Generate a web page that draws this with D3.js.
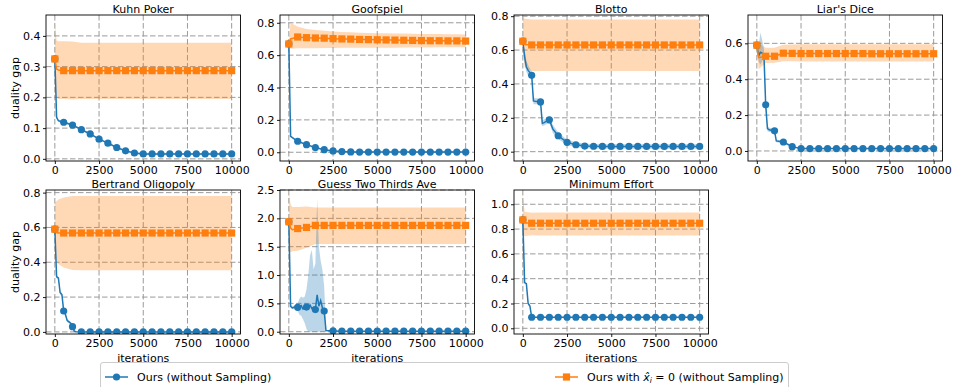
<!DOCTYPE html>
<html><head><meta charset="utf-8">
<script src="https://cdn.jsdelivr.net/npm/d3@7"></script>
<style>body{margin:0;background:#fff} svg{display:block;font-family:"DejaVu Sans",sans-serif}</style>
</head><body><svg id="c" width="953" height="387"></svg>
<script>
// ---------------- DATA ----------------
const xTicks = [0, 2500, 5000, 7500, 10000];
const titles = ["Kuhn Poker","Goofspiel","Blotto","Liar's Dice","Bertrand Oligopoly","Guess Two Thirds Ave","Minimum Effort"];
const seriesNames = ["Ours (without Sampling)", "Ours with x̂_i = 0 (without Sampling)"];

const kuhnYTicks = [0.0,0.1,0.2,0.3,0.4];
const goofYTicks = [0.0,0.2,0.4,0.6,0.8];
const blottoYTicks = [0.0,0.2,0.4,0.6,0.8];
const liarsYTicks = [0.0,0.2,0.4,0.6];
const bertYTicks = [0.0,0.2,0.4,0.6,0.8];
const guessYTicks = [0.0,0.5,1.0,1.5,2.0,2.5];
const minYTicks = [0.0,0.2,0.4,0.6,0.8,1.0];

const kuhnYDomain = [-0.007, 0.468];
const goofYDomain = [-0.054, 0.848];
const blottoYDomain = [-0.055, 0.807];
const liarsYDomain = [-0.056, 0.758];
const bertYDomain = [-0.012, 0.815];
const guessYDomain = [-0.04, 2.5];
const minYDomain = [-0.046, 1.115];

// Kuhn Poker
const kuhnOursIters = [0,100,200,500,1000,1500,2000,2500,3000,3500,4000,4500,5000,5500,6000,6500,7000,7500,8000,8500,9000,9500,10000];
const kuhnOurs   = [0.325,0.135,0.124,0.119,0.110,0.095,0.081,0.064,0.051,0.037,0.026,0.019,0.016,0.016,0.016,0.016,0.016,0.016,0.016,0.016,0.016,0.016,0.016];
const kuhnOursLo = [0.322,0.130,0.120,0.116,0.107,0.092,0.078,0.061,0.048,0.034,0.023,0.016,0.013,0.013,0.013,0.013,0.013,0.013,0.013,0.013,0.013,0.013,0.013];
const kuhnOursHi = [0.328,0.140,0.128,0.122,0.113,0.098,0.084,0.067,0.054,0.040,0.029,0.022,0.019,0.019,0.019,0.019,0.019,0.019,0.019,0.019,0.019,0.019,0.019];
const kuhnZeroIters = [0,100,200,500,1000,1500,2000,2500,3000,3500,4000,4500,5000,5500,6000,6500,7000,7500,8000,8500,9000,9500,10000];
const kuhnZero   = [0.325,0.292,0.289,0.287,0.287,0.287,0.287,0.287,0.287,0.287,0.287,0.287,0.287,0.287,0.287,0.287,0.287,0.287,0.287,0.287,0.287,0.287,0.287];
const kuhnZeroLo = [0.22,0.198,0.195,0.195,0.193,0.195,0.195,0.195,0.195,0.195,0.195,0.195,0.195,0.195,0.195,0.195,0.195,0.195,0.195,0.195,0.195,0.195,0.195];
const kuhnZeroHi = [0.44,0.385,0.383,0.383,0.382,0.378,0.378,0.378,0.378,0.378,0.378,0.378,0.378,0.378,0.378,0.378,0.378,0.378,0.378,0.378,0.378,0.378,0.378];

// Goofspiel
const goofOursIters = [0,100,500,1000,1500,2000,2500,3000,3500,4000,4500,5000,5500,6000,6500,7000,7500,8000,8500,9000,9500,10000];
const goofOurs   = [0.669,0.098,0.068,0.047,0.029,0.016,0.008,0.004,0.002,0.001,0.001,0.001,0.001,0.001,0.001,0.001,0.001,0.001,0.001,0.001,0.001,0.001];
const goofOursLo = [0.665,0.092,0.063,0.043,0.026,0.013,0.005,0.002,0.000,-0.001,-0.001,-0.001,-0.001,-0.001,-0.001,-0.001,-0.001,-0.001,-0.001,-0.001,-0.001,-0.001];
const goofOursHi = [0.673,0.104,0.073,0.051,0.032,0.019,0.011,0.006,0.004,0.003,0.003,0.003,0.003,0.003,0.003,0.003,0.003,0.003,0.003,0.003,0.003,0.003];
const goofZeroIters = [0,100,500,1000,1500,2000,2500,3000,3500,4000,4500,5000,5500,6000,6500,7000,7500,8000,8500,9000,9500,10000];
const goofZero   = [0.669,0.700,0.712,0.708,0.706,0.705,0.702,0.700,0.699,0.697,0.696,0.695,0.694,0.693,0.692,0.691,0.690,0.689,0.689,0.688,0.688,0.687];
const goofZeroLo = [0.655,0.640,0.642,0.643,0.643,0.644,0.644,0.645,0.645,0.645,0.646,0.646,0.646,0.646,0.647,0.647,0.647,0.647,0.648,0.648,0.648,0.648];
const goofZeroHi = [0.685,0.800,0.775,0.762,0.755,0.750,0.746,0.743,0.741,0.739,0.737,0.736,0.735,0.734,0.733,0.732,0.731,0.730,0.730,0.729,0.729,0.728];

// Blotto
const blottoOursIters = [0,100,200,300,400,500,600,700,800,900,1000,1100,1200,1300,1400,1500,1700,2000,2500,3000,3500,4000,4500,5000,5500,6000,6500,7000,7500,8000,8500,9000,9500,10000];
const blottoOurs   = [0.653,0.56,0.50,0.48,0.467,0.451,0.300,0.298,0.297,0.296,0.294,0.167,0.172,0.178,0.184,0.188,0.133,0.094,0.055,0.041,0.033,0.032,0.031,0.031,0.031,0.031,0.031,0.031,0.031,0.031,0.031,0.031,0.031,0.031];
const blottoOursLo = [0.653,0.52,0.47,0.45,0.44,0.43,0.28,0.28,0.28,0.28,0.275,0.15,0.155,0.16,0.165,0.168,0.11,0.075,0.04,0.028,0.02,0.019,0.018,0.018,0.018,0.018,0.018,0.018,0.018,0.018,0.018,0.018,0.018,0.018];
const blottoOursHi = [0.653,0.60,0.54,0.51,0.49,0.475,0.32,0.315,0.315,0.313,0.313,0.185,0.19,0.196,0.205,0.21,0.158,0.115,0.07,0.055,0.047,0.045,0.044,0.044,0.044,0.044,0.044,0.044,0.044,0.044,0.044,0.044,0.044,0.044];
const blottoZeroIters = [0,100,500,1000,1500,2000,2500,3000,3500,4000,4500,5000,5500,6000,6500,7000,7500,8000,8500,9000,9500,10000];
const blottoZero   = [0.652,0.633,0.630,0.630,0.630,0.630,0.630,0.630,0.630,0.630,0.630,0.630,0.630,0.630,0.630,0.630,0.630,0.630,0.630,0.630,0.630,0.630];
const blottoZeroLo = [0.62,0.50,0.476,0.476,0.476,0.476,0.476,0.476,0.476,0.476,0.476,0.476,0.476,0.476,0.476,0.476,0.476,0.476,0.476,0.476,0.476,0.476];
const blottoZeroHi = [0.80,0.785,0.78,0.78,0.78,0.78,0.78,0.78,0.78,0.78,0.78,0.78,0.78,0.78,0.78,0.78,0.78,0.78,0.78,0.78,0.78,0.78];

// Liar's Dice
const liarsOursIters = [0,100,200,300,400,500,600,700,800,900,1000,1100,1500,2000,2500,3000,3500,4000,4500,5000,5500,6000,6500,7000,7500,8000,8500,9000,9500,10000];
const liarsOurs   = [0.59,0.53,0.55,0.545,0.54,0.257,0.125,0.118,0.116,0.114,0.112,0.056,0.05,0.024,0.013,0.013,0.013,0.013,0.013,0.013,0.013,0.013,0.013,0.013,0.013,0.013,0.013,0.013,0.013,0.013];
const liarsOursLo = [0.59,0.50,0.48,0.50,0.52,0.24,0.11,0.105,0.104,0.103,0.101,0.048,0.043,0.019,0.009,0.009,0.009,0.009,0.009,0.009,0.009,0.009,0.009,0.009,0.009,0.009,0.009,0.009,0.009,0.009];
const liarsOursHi = [0.59,0.58,0.66,0.62,0.57,0.275,0.14,0.13,0.128,0.126,0.124,0.064,0.057,0.029,0.017,0.017,0.017,0.017,0.017,0.017,0.017,0.017,0.017,0.017,0.017,0.017,0.017,0.017,0.017,0.017];
const liarsZeroIters = [0,100,500,1000,1500,2000,2500,3000,3500,4000,4500,5000,5500,6000,6500,7000,7500,8000,8500,9000,9500,10000];
const liarsZero   = [0.59,0.52,0.528,0.528,0.545,0.544,0.543,0.543,0.543,0.543,0.543,0.543,0.543,0.543,0.542,0.542,0.542,0.542,0.542,0.542,0.542,0.542];
const liarsZeroLo = [0.58,0.456,0.49,0.492,0.500,0.500,0.499,0.499,0.499,0.499,0.499,0.499,0.499,0.499,0.499,0.499,0.499,0.499,0.499,0.499,0.499,0.499];
const liarsZeroHi = [0.60,0.60,0.575,0.575,0.592,0.594,0.595,0.595,0.595,0.595,0.595,0.595,0.595,0.595,0.595,0.595,0.595,0.595,0.595,0.595,0.595,0.595];

// Bertrand Oligopoly
const bertOursIters = [0,100,200,300,400,500,600,700,800,900,1000,1100,1200,1500,2000,2500,3000,3500,4000,4500,5000,5500,6000,6500,7000,7500,8000,8500,9000,9500,10000];
const bertOurs   = [0.59,0.316,0.31,0.225,0.215,0.12,0.10,0.065,0.058,0.05,0.03,0.004,0.001,0.0,0.0,0.0,0.0,0.0,0.0,0.0,0.0,0.0,0.0,0.0,0.0,0.0,0.0,0.0,0.0,0.0,0.0];
const bertOursLo = [0.59,0.31,0.30,0.215,0.205,0.11,0.09,0.055,0.05,0.043,0.024,0.0,-0.001,-0.002,-0.002,-0.002,-0.002,-0.002,-0.002,-0.002,-0.002,-0.002,-0.002,-0.002,-0.002,-0.002,-0.002,-0.002,-0.002,-0.002,-0.002];
const bertOursHi = [0.59,0.322,0.32,0.235,0.225,0.13,0.11,0.075,0.066,0.057,0.036,0.008,0.003,0.002,0.002,0.002,0.002,0.002,0.002,0.002,0.002,0.002,0.002,0.002,0.002,0.002,0.002,0.002,0.002,0.002,0.002];
const bertZeroIters = [0,100,200,500,1000,1500,2000,2500,3000,3500,4000,4500,5000,5500,6000,6500,7000,7500,8000,8500,9000,9500,10000];
const bertZero   = [0.59,0.57,0.568,0.568,0.568,0.568,0.568,0.568,0.568,0.568,0.568,0.568,0.568,0.568,0.568,0.568,0.568,0.568,0.568,0.568,0.568,0.568,0.568];
const bertZeroLo = [0.42,0.40,0.39,0.37,0.355,0.354,0.354,0.354,0.354,0.354,0.354,0.354,0.354,0.354,0.354,0.354,0.354,0.354,0.354,0.354,0.354,0.354,0.354];
const bertZeroHi = [0.74,0.752,0.76,0.772,0.78,0.781,0.781,0.781,0.781,0.781,0.781,0.781,0.781,0.781,0.781,0.781,0.781,0.781,0.781,0.781,0.781,0.781,0.781];

// Guess Two Thirds Ave
const guessOursIters = [0,100,200,300,400,500,600,700,800,900,1000,1100,1200,1300,1400,1500,1600,1700,1800,1900,2000,2100,2500,3000,3500,4000,4500,5000,5500,6000,6500,7000,7500,8000,8500,9000,9500,10000];
const guessOurs   = [1.94,0.45,0.42,0.43,0.43,0.43,0.44,0.46,0.40,0.43,0.435,0.42,0.47,0.41,0.43,0.39,0.65,0.45,0.55,0.42,0.365,0.02,0.015,0.01,0.01,0.01,0.01,0.01,0.01,0.01,0.01,0.01,0.01,0.01,0.01,0.01,0.01,0.01];
const guessOursLo = [1.94,0.42,0.40,0.40,0.39,0.37,0.30,0.28,0.22,0.15,0.05,0.0,0.0,0.0,0.0,0.0,0.0,0.0,0.0,0.0,0.0,0.01,0.008,0.005,0.005,0.005,0.005,0.005,0.005,0.005,0.005,0.005,0.005,0.005,0.005,0.005,0.005,0.005];
const guessOursHi = [1.94,0.48,0.45,0.46,0.48,0.50,0.58,0.62,0.60,0.62,0.75,1.0,1.35,1.44,1.1,1.2,2.35,1.5,1.25,1.09,0.8,0.03,0.022,0.015,0.015,0.015,0.015,0.015,0.015,0.015,0.015,0.015,0.015,0.015,0.015,0.015,0.015,0.015];
const guessZeroIters = [0,100,200,500,1000,1500,2000,2500,3000,3500,4000,4500,5000,5500,6000,6500,7000,7500,8000,8500,9000,9500,10000];
const guessZero   = [1.94,1.83,1.80,1.82,1.84,1.876,1.876,1.876,1.876,1.876,1.876,1.876,1.876,1.876,1.876,1.876,1.876,1.876,1.876,1.876,1.876,1.876,1.876];
const guessZeroLo = [1.42,1.40,1.42,1.43,1.48,1.547,1.547,1.547,1.547,1.547,1.547,1.547,1.547,1.547,1.547,1.547,1.547,1.547,1.547,1.547,1.547,1.547,1.547];
const guessZeroHi = [2.44,2.25,2.20,2.20,2.21,2.19,2.19,2.19,2.19,2.19,2.19,2.19,2.19,2.19,2.19,2.19,2.19,2.19,2.19,2.19,2.19,2.19,2.19];

// Minimum Effort
const minOursIters = [0,100,200,300,400,500,1000,1500,2000,2500,3000,3500,4000,4500,5000,5500,6000,6500,7000,7500,8000,8500,9000,9500,10000];
const minOurs   = [0.874,0.368,0.36,0.20,0.18,0.089,0.089,0.089,0.089,0.089,0.089,0.089,0.089,0.089,0.089,0.089,0.089,0.089,0.089,0.089,0.089,0.089,0.089,0.089,0.089];
const minOursLo = [0.874,0.36,0.352,0.19,0.17,0.086,0.086,0.086,0.086,0.086,0.086,0.086,0.086,0.086,0.086,0.086,0.086,0.086,0.086,0.086,0.086,0.086,0.086,0.086,0.086];
const minOursHi = [0.874,0.376,0.368,0.21,0.19,0.092,0.092,0.092,0.092,0.092,0.092,0.092,0.092,0.092,0.092,0.092,0.092,0.092,0.092,0.092,0.092,0.092,0.092,0.092,0.092];
const minZeroIters = [0,100,500,1000,1500,2000,2500,3000,3500,4000,4500,5000,5500,6000,6500,7000,7500,8000,8500,9000,9500,10000];
const minZero   = [0.874,0.85,0.847,0.847,0.847,0.847,0.847,0.847,0.847,0.847,0.847,0.847,0.847,0.847,0.847,0.847,0.847,0.847,0.847,0.847,0.847,0.847];
const minZeroLo = [0.74,0.745,0.75,0.748,0.748,0.748,0.748,0.748,0.748,0.748,0.748,0.748,0.748,0.748,0.748,0.748,0.748,0.748,0.748,0.748,0.748,0.748];
const minZeroHi = [1.07,0.94,0.932,0.933,0.933,0.933,0.933,0.933,0.933,0.933,0.933,0.933,0.933,0.933,0.933,0.933,0.933,0.933,0.933,0.933,0.933,0.933];

// ---------------- LAYOUT ----------------
const BLUE = "#1f77b4", ORANGE = "#ff7f0e";
const FS = 11;
const colLeft = [46, 280, 514, 748], PW = 194.5;
const rowTop = [15, 190], rowBot = [161, 334];

const zip = (xs, ys, lo, hi) => xs.map((x, i) => ({x, y: ys[i], lo: lo[i], hi: hi[i]}));

const panels = [
  {title: titles[0], row:0, col:0, yd: kuhnYDomain, yt: kuhnYTicks,
   ours: zip(kuhnOursIters,kuhnOurs,kuhnOursLo,kuhnOursHi), zero: zip(kuhnZeroIters,kuhnZero,kuhnZeroLo,kuhnZeroHi)},
  {title: titles[1], row:0, col:1, yd: goofYDomain, yt: goofYTicks,
   ours: zip(goofOursIters,goofOurs,goofOursLo,goofOursHi), zero: zip(goofZeroIters,goofZero,goofZeroLo,goofZeroHi)},
  {title: titles[2], row:0, col:2, yd: blottoYDomain, yt: blottoYTicks,
   ours: zip(blottoOursIters,blottoOurs,blottoOursLo,blottoOursHi), zero: zip(blottoZeroIters,blottoZero,blottoZeroLo,blottoZeroHi)},
  {title: titles[3], row:0, col:3, yd: liarsYDomain, yt: liarsYTicks,
   ours: zip(liarsOursIters,liarsOurs,liarsOursLo,liarsOursHi), zero: zip(liarsZeroIters,liarsZero,liarsZeroLo,liarsZeroHi)},
  {title: titles[4], row:1, col:0, yd: bertYDomain, yt: bertYTicks,
   ours: zip(bertOursIters,bertOurs,bertOursLo,bertOursHi), zero: zip(bertZeroIters,bertZero,bertZeroLo,bertZeroHi)},
  {title: titles[5], row:1, col:1, yd: guessYDomain, yt: guessYTicks,
   ours: zip(guessOursIters,guessOurs,guessOursLo,guessOursHi), zero: zip(guessZeroIters,guessZero,guessZeroLo,guessZeroHi)},
  {title: titles[6], row:1, col:2, yd: minYDomain, yt: minYTicks,
   ours: zip(minOursIters,minOurs,minOursLo,minOursHi), zero: zip(minZeroIters,minZero,minZeroLo,minZeroHi)},
];

const svg = d3.select("#c");
svg.append("rect").attr("width", 953).attr("height", 387).attr("fill", "#fff");

panels.forEach((p, k) => {
  const x0 = colLeft[p.col], x1 = x0 + PW, y0 = rowTop[p.row], y1 = rowBot[p.row];
  const x = d3.scaleLinear().domain([-500, 10500]).range([x0, x1]);
  const y = d3.scaleLinear().domain(p.yd).range([y1, y0]);
  const g = svg.append("g");
  const clipId = "clip" + k;
  g.append("clipPath").attr("id", clipId).append("rect")
    .attr("x", x0).attr("y", y0).attr("width", x1 - x0).attr("height", y1 - y0);

  // grid
  const grid = g.append("g").attr("stroke", "#9a9a9a").attr("stroke-width", 1).attr("stroke-dasharray", "5.5,2.5");
  grid.selectAll(".gx").data(xTicks).join("line")
    .attr("x1", d => x(d)).attr("x2", d => x(d)).attr("y1", y0).attr("y2", y1);
  grid.selectAll(".gy").data(p.yt).join("line")
    .attr("y1", d => y(d)).attr("y2", d => y(d)).attr("x1", x0).attr("x2", x1);

  const plot = g.append("g").attr("clip-path", `url(#${clipId})`);
  const area = d3.area().x(d => x(d.x)).y0(d => y(d.lo)).y1(d => y(d.hi));
  const line = d3.line().x(d => x(d.x)).y(d => y(d.y));

  plot.append("path").datum(p.zero).attr("d", area).attr("fill", ORANGE).attr("fill-opacity", 0.3);
  plot.append("path").datum(p.ours).attr("d", area).attr("fill", BLUE).attr("fill-opacity", 0.3);

  plot.append("path").datum(p.ours).attr("d", line).attr("fill", "none").attr("stroke", BLUE).attr("stroke-width", 1.5);
  plot.selectAll(".mo").data(p.ours.filter(d => d.x % 500 === 0)).join("circle")
    .attr("cx", d => x(d.x)).attr("cy", d => y(d.y)).attr("r", 3.6).attr("fill", BLUE);

  plot.append("path").datum(p.zero).attr("d", line).attr("fill", "none").attr("stroke", ORANGE).attr("stroke-width", 1.5);
  plot.selectAll(".mz").data(p.zero.filter(d => d.x % 500 === 0)).join("rect")
    .attr("x", d => x(d.x) - 3.6).attr("y", d => y(d.y) - 3.6).attr("width", 7.2).attr("height", 7.2).attr("fill", ORANGE);

  // axes
  const ax = g.append("g").attr("transform", `translate(0,${y1})`)
    .call(d3.axisBottom(x).tickValues(xTicks).tickSize(3).tickPadding(2).tickFormat(d3.format("d")));
  const ay = g.append("g").attr("transform", `translate(${x0},0)`)
    .call(d3.axisLeft(y).tickValues(p.yt).tickSize(3).tickPadding(2.5).tickFormat(d3.format(".1f")));
  [ax, ay].forEach(a => {
    a.select(".domain").remove();
    a.selectAll("text").attr("font-size", FS).attr("font-family", "DejaVu Sans").attr("fill", "#000");
    a.selectAll("line").attr("stroke", "#000").attr("stroke-width", 0.9);
  });
  g.append("rect").attr("x", x0).attr("y", y0).attr("width", x1 - x0).attr("height", y1 - y0)
    .attr("fill", "none").attr("stroke", "#000").attr("stroke-width", 0.9);

  g.append("text").attr("x", (x0 + x1) / 2).attr("y", y0 - 2.5).attr("text-anchor", "middle")
    .attr("font-size", FS).text(p.title);

  if (p.col === 0) {
    g.append("text").attr("transform", `translate(19,${(y0 + y1) / 2}) rotate(-90)`)
      .attr("text-anchor", "middle").attr("font-size", FS).text("duality gap");
  }
  if (p.row === 1) {
    g.append("text").attr("x", (x0 + x1) / 2).attr("y", 361.5).attr("text-anchor", "middle")
      .attr("font-size", FS).text("iterations");
  }
});

// legend
const lg = svg.append("g");
lg.append("rect").attr("x", 100.5).attr("y", 362.5).attr("width", 688).attr("height", 40).attr("rx", 2.5)
  .attr("fill", "#fff").attr("fill-opacity", 0.8).attr("stroke", "#cccccc").attr("stroke-width", 1);
const ly = 377;
lg.append("line").attr("x1", 105).attr("x2", 128).attr("y1", ly).attr("y2", ly).attr("stroke", BLUE).attr("stroke-width", 1.5);
lg.append("circle").attr("cx", 116.5).attr("cy", ly).attr("r", 3.6).attr("fill", BLUE);
lg.append("text").attr("x", 137).attr("y", ly + 4).attr("font-size", FS).text(seriesNames[0]);

lg.append("line").attr("x1", 555).attr("x2", 578).attr("y1", ly).attr("y2", ly).attr("stroke", ORANGE).attr("stroke-width", 1.5);
lg.append("rect").attr("x", 566.5 - 3.6).attr("y", ly - 3.6).attr("width", 7.2).attr("height", 7.2).attr("fill", ORANGE);
const t2 = lg.append("text").attr("x", 587).attr("y", ly + 4).attr("font-size", FS);
const parts = seriesNames[1].split(/x̂_i/);
t2.append("tspan").text(parts[0]);
t2.append("tspan").attr("font-style", "italic").text("x̂");
t2.append("tspan").attr("font-style", "italic").attr("font-size", FS * 0.7).attr("dy", 2).text("i");
t2.append("tspan").attr("dy", -2).text(parts[1]);
</script></body></html>
